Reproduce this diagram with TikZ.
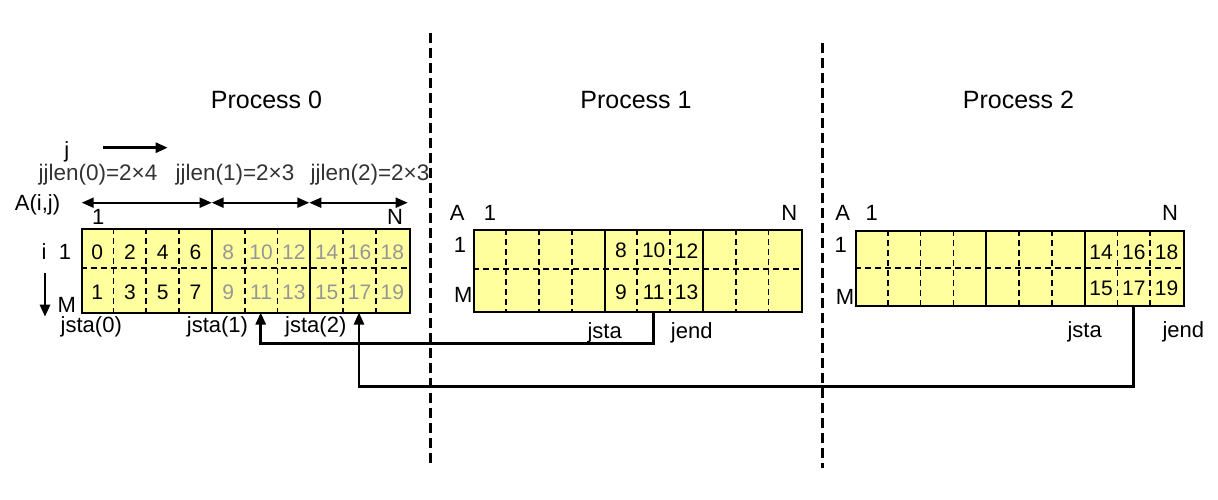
\documentclass[tikz,border=0pt]{standalone}
\usepackage{fontspec}
\setmainfont{Liberation Sans}
\usetikzlibrary{arrows.meta,positioning}
\definecolor{cellyellow}{RGB}{255,255,158}
\definecolor{lightnum}{RGB}{150,150,150}

\begin{document}
\begin{tikzpicture}[x=1pt,y=-1pt,>={Triangle[length=12pt,width=10pt]},line width=2pt,
  every node/.style={inner sep=0pt}]
\tikzstyle{grid}=[draw,fill=cellyellow,anchor=north west,minimum width=328pt]
\tikzstyle{cut}=[line width=1.7pt,dash pattern=on 6pt off 4pt]
\tikzstyle{wall}=[line width=3pt,dash pattern=on 10pt off 5pt]
\tikzstyle{lbl}=[font=\fontsize{22}{26}\selectfont]
\tikzstyle{num}=[font=\fontsize{21}{25}\selectfont]
\tikzstyle{title}=[font=\fontsize{25}{30}\selectfont]
\tikzstyle{len}=[font=\fontsize{22.5}{27}\selectfont,text=black!80]
\tikzstyle{link}=[->,line width=2.6pt]

  \useasboundingbox (0,0) rectangle (1218,500);

  % separators between processes
  \draw[wall] (430,32.7) -- (430,462.7);
  \draw[wall] (822.3,43.3) -- (822.3,468);

  \node[title] (t0) at (266.5,100) {Process 0};
  \node[title] (t1) at (636,100)   {Process 1};
  \node[title] (t2) at (1018.5,100) {Process 2};

  % process 0
  \node[lbl] (jdir) at (66.7,152) {j};
  \coordinate (jA) at (102.7,147.7);
  \coordinate (jB) at (167.7,147.7);
  \draw[link] (jA) -- (jB);
  \node[len] (len0) at (98,175)  {jjlen(0)=2×4};
  \node[len] (len1) at (235,175) {jjlen(1)=2×3};
  \node[len] (len2) at (370,175) {jjlen(2)=2×3};
  \coordinate (c0) at (81.7,202.7);
  \coordinate (c1) at (211.7,202.7);
  \coordinate (c2) at (309.3,202.7);
  \coordinate (c3) at (407.7,202.7);
  \draw[<->] (c0) -- (c1);
  \draw[<->] (c1) -- (c2);
  \draw[<->] (c2) -- (c3);
  \node[lbl] (aij) at (37.5,205) {A(i,j)};
  \node[lbl] (first0) at (98.3,217.3) {1};
  \node[lbl] (last0) at (395,217.3) {N};
  \node[lbl] (idir) at (44,251.7) {i};
  \node[lbl] (row0a) at (65,251.7) {1};
  \node[lbl] (row0b) at (66.7,305) {M};
  \coordinate (iA) at (45,273.3);
  \coordinate (iB) at (45,316.7);
  \draw[link] (iA) -- (iB);

  \node[grid,minimum height=83.4pt] (g0) at (80.7,228.3) {};
  \begin{scope}[shift={(g0.north west)}]
    \draw[cut] (0,39.4) -- (328,39.4);
    \foreach \k in {1,2,3,5,6,8,9} \draw[cut] (\k*32.8,0) -- (\k*32.8,83.4);
    \foreach \k in {4,7} \draw (\k*32.8,0) -- (\k*32.8,83.4);
    \foreach \k [evaluate=\k as \up using int(2*\k), evaluate=\k as \dn using int(2*\k+1)] in {0,...,3} {
      \node[num] (p0n\up) at (\k*32.8+16.4,23.7) {\up};
      \node[num] (p0n\dn) at (\k*32.8+16.4,63.7) {\dn};
    }
    \foreach \k [evaluate=\k as \up using int(2*\k), evaluate=\k as \dn using int(2*\k+1)] in {4,...,9} {
      \node[num,text=lightnum] (p0n\up) at (\k*32.8+16.4,23.7) {\up};
      \node[num,text=lightnum] (p0n\dn) at (\k*32.8+16.4,63.7) {\dn};
    }
  \end{scope}
  \node[lbl] (sta0) at (91.3,326.7) {jsta(0)};
  \node[lbl] (sta1) at (217.5,326.7) {jsta(1)};
  \node[lbl] (sta2) at (315.8,326.7) {jsta(2)};

  % process 1
  \node[lbl] (a1) at (457.3,213.3) {A};
  \node[lbl] (first1) at (490,213.3) {1};
  \node[lbl] (last1) at (789.3,213.3) {N};
  \node[lbl] (row1a) at (460,245) {1};
  \node[lbl] (row1b) at (463.3,295) {M};
  \node[grid,minimum height=82pt] (g1) at (473.3,229) {};
  \begin{scope}[shift={(g1.north west)}]
    \draw[cut] (0,40) -- (328,40);
    \foreach \k in {1,2,3,5,6,8,9} \draw[cut] (\k*32.8,0) -- (\k*32.8,82);
    \foreach \k in {4,7} \draw (\k*32.8,0) -- (\k*32.8,82);
    \foreach \k [evaluate=\k as \up using int(2*\k), evaluate=\k as \dn using int(2*\k+1)] in {4,...,6} {
      \node[num] (p1n\up) at (\k*32.8+16.4,21.7) {\up};
      \node[num] (p1n\dn) at (\k*32.8+16.4,63.3) {\dn};
    }
  \end{scope}
  \node[lbl] (sta) at (604.7,332.5) {jsta};
  \node[lbl] (end) at (691.7,332.5) {jend};

  % process 2
  \node[lbl] (a2) at (842.7,213.3) {A};
  \node[lbl] (first2) at (871.7,213.3) {1};
  \node[lbl] (last2) at (1170,213.3) {N};
  \node[lbl] (row2a) at (840.7,245) {1};
  \node[lbl] (row2b) at (845,296.7) {M};
  \node[grid,minimum height=75pt] (g2) at (855,230) {};
  \begin{scope}[shift={(g2.north west)}]
    \draw[cut] (0,38.3) -- (328,38.3);
    \foreach \k in {1,2,3,5,6,8,9} \draw[cut] (\k*32.8,0) -- (\k*32.8,75);
    \foreach \k in {4,7} \draw (\k*32.8,0) -- (\k*32.8,75);
    \foreach \k [evaluate=\k as \up using int(2*\k), evaluate=\k as \dn using int(2*\k+1)] in {7,...,9} {
      \node[num] (p2n\up) at (\k*32.8+16.4,22) {\up};
      \node[num] (p2n\dn) at (\k*32.8+16.4,58) {\dn};
    }
  \end{scope}
  \node[lbl] (sta') at (1084.7,331.7) {jsta};
  \node[lbl] (end') at (1183.3,331.7) {jend};

  % sends back to process 0
  \coordinate (p1out) at (653.3,311);
  \coordinate (p0in1) at (260.7,312.5);
  \draw[link] (p1out) -- ++(0,32.3) -| (p0in1);
  \coordinate (p2out) at (1133.3,305);
  \coordinate (p0in2) at (359,312.5);
  \draw[link] (p2out) -- ++(0,81.7) -| (p0in2);
\end{tikzpicture}
\end{document}
